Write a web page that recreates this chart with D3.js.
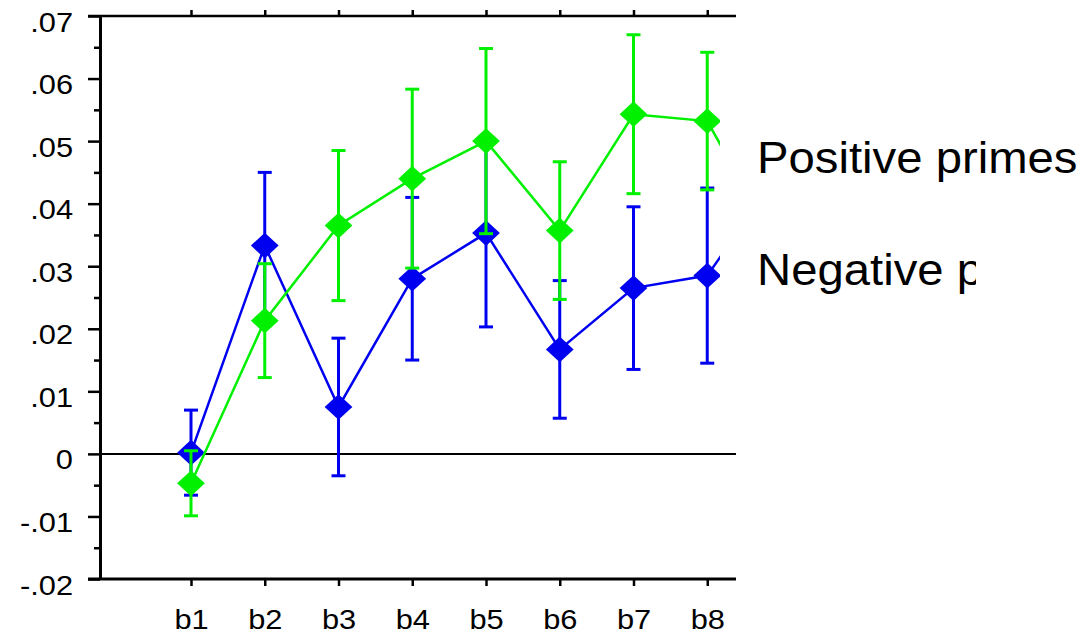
<!DOCTYPE html>
<html>
<head>
<meta charset="utf-8">
<script src="https://cdn.jsdelivr.net/npm/d3@7"></script>
<style>
  html, body { margin: 0; padding: 0; background: #fff; }
  svg { display: block; font-family: 'Liberation Sans', Arial, Helvetica, sans-serif; }
</style>
</head>
<body>
<svg id="chart" width="1087" height="635"></svg>
<script>
// Values. b9 is only seen as the lines leaving the plot.
const categories   = [ 'b1', 'b2', 'b3', 'b4', 'b5', 'b6', 'b7', 'b8', 'b9' ];
const xTickLabels  = [ 'b1', 'b2', 'b3', 'b4', 'b5', 'b6', 'b7', 'b8' ];
const positiveMean = [ -0.0047, 0.0213, 0.0365, 0.0440, 0.0500, 0.0357, 0.0543, 0.0532, 0.0321 ];
const positiveErr  = [  0.0052, 0.0091, 0.0120, 0.0143, 0.0148, 0.0110, 0.0127, 0.0110, 0.0120 ];
const negativeMean = [  0.0002, 0.0333, 0.0075, 0.0280, 0.0353, 0.0167, 0.0265, 0.0285, 0.0454 ];
const negativeErr  = [  0.0068, 0.0117, 0.0110, 0.0130, 0.0150, 0.0110, 0.0130, 0.0140, 0.0130 ];
const yTicks       = [ -0.02, -0.01, 0, 0.01, 0.02, 0.03, 0.04, 0.05, 0.06, 0.07 ];
const yMinorTicks  = [ -0.015, -0.005, 0.005, 0.015, 0.025, 0.035, 0.045, 0.055, 0.065 ];
const yTickLabels  = [ '-.02', '-.01', '0', '.01', '.02', '.03', '.04', '.05', '.06', '.07' ];
const seriesNames  = [ 'Positive primes', 'Negative primes' ];

// Sizes and places. The source picture is a bit stretched sideways, so text gets a scaleX.
const W = 1087, H = 635;
const plot = { left: 100, right: 736, top: 16, bottom: 579, clipRight: 720 };
const stretch = 1.1;
const legendStretch = 1.075;

const svg = d3.select( '#chart' );

const x = d3.scalePoint( )
  .domain( categories )
  .range( [ 191, 191 + 73.75 * ( categories.length - 1 ) ] );
const y = d3.scaleLinear( )
  .domain( [ -0.02, 0.07 ] )
  .range( [ plot.bottom, plot.top ] );

// Clip for the data (lines run out to the right) and for the second legend line,
// whose text box is narrower than the text in the source.
const defs = svg.append( 'defs' );
defs.append( 'clipPath' ).attr( 'id', 'plot-clip' )
  .append( 'rect' ).attr( 'x', 0 ).attr( 'y', 0 ).attr( 'width', plot.clipRight ).attr( 'height', H );
defs.append( 'clipPath' ).attr( 'id', 'legend-clip' )
  .append( 'rect' ).attr( 'x', 0 ).attr( 'y', 0 ).attr( 'width', 976 ).attr( 'height', H );

// Zero line.
svg.append( 'line' )
  .attr( 'x1', plot.left ).attr( 'x2', plot.right )
  .attr( 'y1', y( 0 ) ).attr( 'y2', y( 0 ) )
  .attr( 'stroke', '#000' ).attr( 'stroke-width', 2 );

// Left axis with major and minor ticks.
const yAxis = d3.axisLeft( y )
  .tickValues( yTicks )
  .tickSize( 12 )
  .tickPadding( 15 )
  .tickSizeOuter( 0 )
  .tickFormat( ( d, i ) => yTickLabels[ i ] );
const yAxisG = svg.append( 'g' ).attr( 'transform', `translate( ${plot.left}, 0 )` ).call( yAxis );
yAxisG.attr( 'font-family', null );
yAxisG.select( '.domain' ).attr( 'stroke-width', 3 );
yAxisG.selectAll( '.tick line' ).attr( 'stroke-width', 2.5 );
yAxisG.selectAll( 'text' )
  .attr( 'font-size', 28 ).attr( 'fill', '#000' )
  .attr( 'x', -27 / stretch ).attr( 'dy', 15 )
  .attr( 'transform', `scale( ${stretch}, 1 )` );

const yMinor = d3.axisLeft( y ).tickValues( yMinorTicks ).tickSize( 6 ).tickFormat( '' );
const yMinorG = svg.append( 'g' ).attr( 'transform', `translate( ${plot.left}, 0 )` ).call( yMinor );
yMinorG.select( '.domain' ).remove( );
yMinorG.selectAll( '.tick line' ).attr( 'stroke-width', 2.5 );

// Bottom and top axes.
const xAxis = d3.axisBottom( x ).tickValues( xTickLabels ).tickSize( 7 ).tickPadding( 23 ).tickSizeOuter( 0 );
const xAxisG = svg.append( 'g' ).attr( 'transform', `translate( 0, ${plot.bottom} )` ).call( xAxis );
xAxisG.attr( 'font-family', null );
xAxisG.select( '.domain' ).attr( 'd', `M${plot.left - 12},0H${plot.right}` ).attr( 'stroke-width', 3 );
xAxisG.selectAll( '.tick line' ).attr( 'stroke-width', 2.5 );
xAxisG.selectAll( 'text' )
  .attr( 'font-size', 28 ).attr( 'fill', '#000' )
  .attr( 'transform', `scale( ${stretch}, 1 )` );

const xTop = d3.axisTop( x ).tickValues( xTickLabels ).tickSize( 6 ).tickFormat( '' ).tickSizeOuter( 0 );
const xTopG = svg.append( 'g' ).attr( 'transform', `translate( 0, ${plot.top} )` ).call( xTop );
xTopG.select( '.domain' ).attr( 'd', `M${plot.left - 12},0H${plot.right}` ).attr( 'stroke-width', 2.5 );
xTopG.selectAll( '.tick line' ).attr( 'stroke-width', 2.5 );

// Series: negative first so the green one sits on top.
const series = [
  { name: seriesNames[ 1 ], mean: negativeMean, err: negativeErr, color: '#0000f0' },
  { name: seriesNames[ 0 ], mean: positiveMean, err: positiveErr, color: '#00f000' }
];

const dataG = svg.append( 'g' ).attr( 'clip-path', 'url(#plot-clip)' );
const line  = d3.line( ).x( d => x( d.cat ) ).y( d => y( d.mean ) );
const diamond = d3.symbol( ).type( d3.symbolSquare ).size( 330 );
const capHalf = 7;

series.forEach( s => {
  const pts = categories.map( ( c, i ) => ( { cat: c, mean: s.mean[ i ], err: s.err[ i ] } ) );
  const g = dataG.append( 'g' );

  g.append( 'path' )
    .datum( pts )
    .attr( 'd', line )
    .attr( 'fill', 'none' )
    .attr( 'stroke', s.color )
    .attr( 'stroke-width', 2.5 );

  const bars = g.selectAll( '.err' ).data( pts ).enter( ).append( 'g' ).attr( 'class', 'err' )
    .attr( 'stroke', s.color ).attr( 'stroke-width', 3 );
  bars.append( 'line' )
    .attr( 'x1', d => x( d.cat ) ).attr( 'x2', d => x( d.cat ) )
    .attr( 'y1', d => y( d.mean + d.err ) ).attr( 'y2', d => y( d.mean - d.err ) );
  bars.append( 'line' )
    .attr( 'x1', d => x( d.cat ) - capHalf ).attr( 'x2', d => x( d.cat ) + capHalf )
    .attr( 'y1', d => y( d.mean + d.err ) ).attr( 'y2', d => y( d.mean + d.err ) );
  bars.append( 'line' )
    .attr( 'x1', d => x( d.cat ) - capHalf ).attr( 'x2', d => x( d.cat ) + capHalf )
    .attr( 'y1', d => y( d.mean - d.err ) ).attr( 'y2', d => y( d.mean - d.err ) );

  g.selectAll( '.marker' ).data( pts ).enter( ).append( 'path' ).attr( 'class', 'marker' )
    .attr( 'd', diamond )
    .attr( 'fill', s.color )
    .attr( 'transform', d => `translate( ${x( d.cat )}, ${y( d.mean )} ) scale( 1.08, 1 ) rotate( 45 )` );
} );

// Legend: just text; the second line is cut off like in the source.
// Each line sits in its own group so the clip works in page pixels.
svg.selectAll( '.legend' ).data( seriesNames ).enter( ).append( 'g' )
  .attr( 'class', 'legend' )
  .attr( 'clip-path', ( d, i ) => i === 1 ? 'url(#legend-clip)' : null )
  .append( 'text' )
    .attr( 'x', 757 / legendStretch )
    .attr( 'y', ( d, i ) => 173 + i * 112 )
    .attr( 'font-size', 44 )
    .attr( 'fill', '#000' )
    .attr( 'transform', `scale( ${legendStretch}, 1 )` )
    .text( d => d );
</script>
</body>
</html>
